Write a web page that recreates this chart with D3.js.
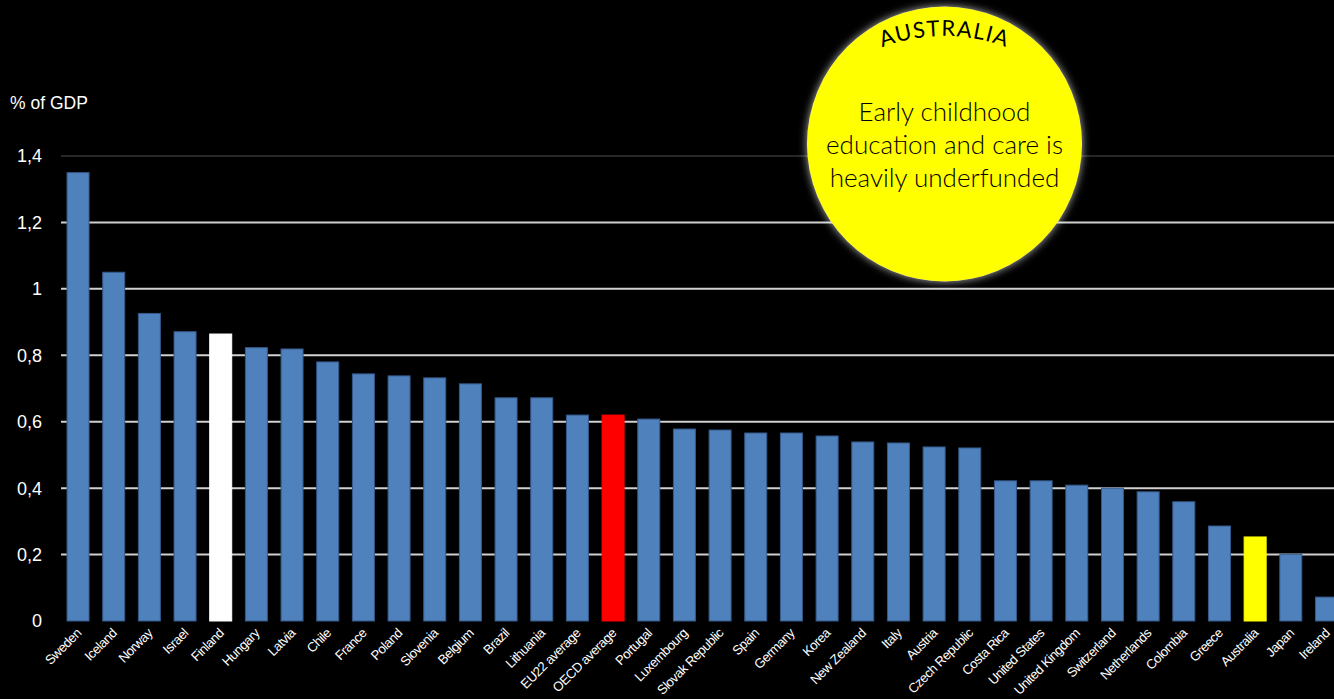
<!DOCTYPE html>
<html>
<head>
<meta charset="utf-8">
<script src="https://cdn.jsdelivr.net/npm/d3@7"></script>
<style>
  body { margin: 0; background: #000; }
  svg { display: block; }
</style>
</head>
<body>
<div id="chart"></div>
<script>
var countries = ['Sweden', 'Iceland', 'Norway', 'Israel', 'Finland', 'Hungary', 'Latvia', 'Chile',
    'France', 'Poland', 'Slovenia', 'Belgium', 'Brazil', 'Lithuania', 'EU22 average', 'OECD average',
    'Portugal', 'Luxembourg', 'Slovak Republic', 'Spain', 'Germany', 'Korea', 'New Zealand', 'Italy',
    'Austria', 'Czech Republic', 'Costa Rica', 'United States', 'United Kingdom', 'Switzerland',
    'Netherlands', 'Colombia', 'Greece', 'Australia', 'Japan', 'Ireland'];

var spending = [1.35, 1.05, 0.926, 0.871, 0.864, 0.823, 0.819, 0.78,
    0.744, 0.738, 0.732, 0.714, 0.672, 0.672, 0.62, 0.62,
    0.608, 0.578, 0.575, 0.566, 0.566, 0.557, 0.539, 0.536,
    0.524, 0.521, 0.422, 0.422, 0.409, 0.400,
    0.389, 0.359, 0.286, 0.253, 0.201, 0.072];

var yTicks = [0, 0.2, 0.4, 0.6, 0.8, 1, 1.2, 1.4];
var highlight = {'Finland': '#ffffff', 'OECD average': '#ff0000', 'Australia': '#ffff00'};

var calloutTitle = 'AUSTRALIA';
var calloutLines = ['Early childhood', 'education and care is', 'heavily underfunded'];

var svgWidth = 1334;
var svgHeight = 699;

var data = countries.map(function(c, i) {
    return {name: c, value: spending[i]};
});

var svg = d3.select('#chart')
    .append('svg')
    .attr('width', svgWidth)
    .attr('height', svgHeight)
    .style('background', '#000');

var x = d3.scaleBand()
    .domain(countries)
    .range([60.2, 60.2 + 36 * 35.67])
    .paddingInner(0.383)
    .paddingOuter(0.1915);

var y = d3.scaleLinear()
    .domain([0, 1.4])
    .range([621, 156]);

// gridlines
svg.append('g').selectAll('line')
    .data(yTicks.filter(d => d > 0))
    .enter()
    .append('line')
    .attr('x1', 61)
    .attr('x2', svgWidth)
    .attr('y1', d => y(d))
    .attr('y2', d => y(d))
    .attr('stroke', d => d === 1.4 ? '#262626' : '#d0d0d0')
    .attr('stroke-width', 2);

// y labels
var fmt = d => String(d).replace('.', ',');
svg.append('g').selectAll('text')
    .data(yTicks)
    .enter()
    .append('text')
    .attr('x', 42)
    .attr('y', d => y(d))
    .attr('dy', '0.36em')
    .attr('text-anchor', 'end')
    .attr('fill', '#fff')
    .attr('font-family', 'Liberation Sans, Arial, sans-serif')
    .attr('font-size', 18)
    .text(fmt);

svg.append('text')
    .attr('x', 10)
    .attr('y', 109)
    .attr('fill', '#fff')
    .attr('font-family', 'Liberation Sans, Arial, sans-serif')
    .attr('font-size', 17.5)
    .text('% of GDP');

// bars
svg.append('g').selectAll('rect')
    .data(data)
    .enter()
    .append('rect')
    .attr('x', d => x(d.name))
    .attr('y', d => y(d.value))
    .attr('width', x.bandwidth())
    .attr('height', d => y(0) - y(d.value))
    .attr('fill', d => highlight[d.name] || '#4f81bd')
    .attr('stroke', d => highlight[d.name] || '#35598a')
    .attr('stroke-width', 1);

// x labels
svg.append('g').selectAll('text')
    .data(countries)
    .enter()
    .append('text')
    .attr('transform', d => `translate(${x(d) + x.bandwidth() / 2 + 4}, 634) rotate(-45)`)
    .attr('text-anchor', 'end')
    .attr('fill', '#fff')
    .attr('font-family', 'Liberation Sans, Arial, sans-serif')
    .attr('font-size', 13.2)
    .attr('letter-spacing', -0.5)
    .text(d => d);

// callout circle
var defs = svg.append('defs');
var glow = defs.append('filter')
    .attr('id', 'glow')
    .attr('x', '-20%').attr('y', '-20%')
    .attr('width', '140%').attr('height', '140%');
glow.append('feDropShadow')
    .attr('dx', 0).attr('dy', 0)
    .attr('stdDeviation', 4)
    .attr('flood-color', '#fff')
    .attr('flood-opacity', 0.7);

var cx = 944.5, cy = 144, r = 137.5;
svg.append('circle')
    .attr('cx', cx)
    .attr('cy', cy)
    .attr('r', r)
    .attr('fill', '#ffff00')
    .attr('filter', 'url(#glow)');

var arcR = 175, arcCy = 211;
defs.append('path')
    .attr('id', 'titleArc')
    .attr('d', `M ${cx - arcR} ${arcCy} A ${arcR} ${arcR} 0 0 1 ${cx + arcR} ${arcCy}`);

svg.append('text')
    .attr('font-family', 'Lato, Open Sans, sans-serif')
    .attr('font-size', 22)
    .attr('letter-spacing', 1.2)
    .attr('fill', '#000')
    .append('textPath')
    .attr('href', '#titleArc')
    .attr('startOffset', '50%')
    .attr('text-anchor', 'middle')
    .text(calloutTitle);

svg.append('g').selectAll('text')
    .data(calloutLines)
    .enter()
    .append('text')
    .attr('x', cx)
    .attr('y', (d, i) => 121 + i * 33)
    .attr('text-anchor', 'middle')
    .attr('fill', '#000')
    .attr('font-family', 'Lato, Open Sans, sans-serif')
    .attr('font-weight', 300)
    .attr('font-size', 26)
    .text(d => d);
</script>
</body>
</html>
